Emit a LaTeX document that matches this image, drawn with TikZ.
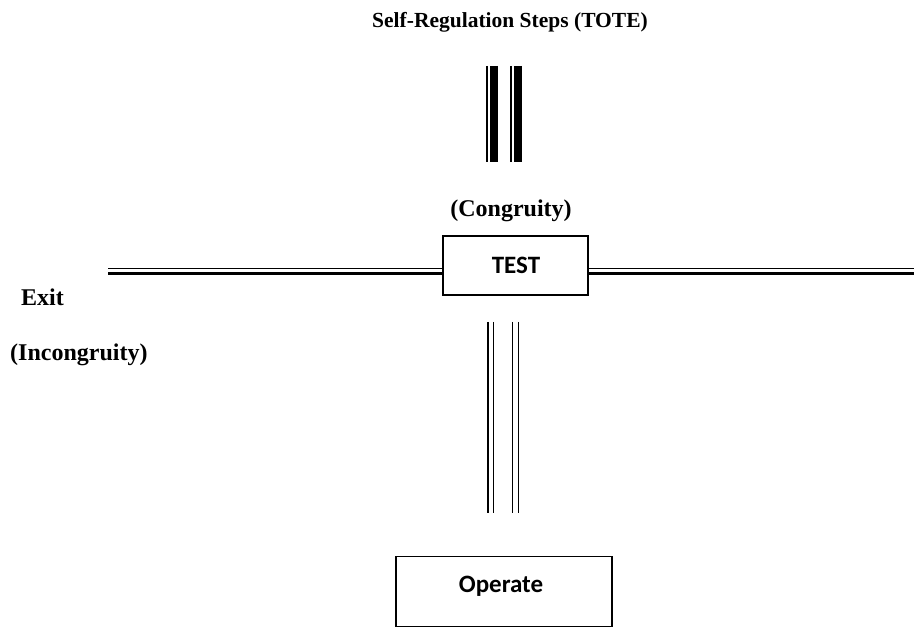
\documentclass[tikz,border=0pt]{standalone}
\usepackage{fontspec}
\setmainfont{Liberation Serif}
\newfontfamily\boxfont{Carlito}
\begin{document}
\begin{tikzpicture}[x=1pt,y=-1pt,
  lbl/.style={font=\fontsize{24}{28}\selectfont\bfseries, inner sep=0pt},
  ttl/.style={font=\fontsize{21.5}{26}\selectfont\bfseries, inner sep=0pt},
  boxtxt/.style={font=\boxfont\fontsize{25}{30}\selectfont\bfseries, inner sep=0pt},
  tbox/.style={draw, line width=1.6pt, inner sep=0pt},
  thinrail/.style={line width=1.5pt},
  thickrail/.style={line width=3pt},
  bar/.style={line width=7.5pt},
  barthin/.style={line width=1.6pt},
  lowrail/.style={line width=1.8pt}]
\useasboundingbox (0,0) rectangle (914,628);
% title
\node[ttl, anchor=base] (title) at (510,28) {Self-Regulation Steps (TOTE)};
% top bars
\coordinate (b1t) at (487,66);   \coordinate (b1b) at (487,162);
\coordinate (b2t) at (494,66);   \coordinate (b2b) at (494,162);
\coordinate (b3t) at (510.8,66); \coordinate (b3b) at (510.8,162);
\coordinate (b4t) at (518,66);   \coordinate (b4b) at (518,162);
\draw[barthin] (b1t) -- (b1b);
\draw[bar] (b2t) -- (b2b);
\draw[barthin] (b3t) -- (b3b);
\draw[bar] (b4t) -- (b4b);
% congruity
\node[lbl, anchor=base] (cong) at (511,217) {(Congruity)};
% TEST box
\node[tbox, minimum width=145pt, minimum height=59pt] (test) at (515.5,265.5) {};
\node[boxtxt] (testtxt) at (516,265) {TEST};
% horizontal rails
\coordinate (lA) at (108,268.3);
\coordinate (lB) at (108,274);
\coordinate (rA) at (914,268.3);
\coordinate (rB) at (914,274);
\draw[thinrail] (lA) -- (lA -| test.west);
\draw[thickrail] (lB) -- (lB -| test.west);
\draw[thinrail] (test.east |- rA) -- (rA);
\draw[thickrail] (test.east |- rB) -- (rB);
% labels left
\node[lbl, anchor=base west] (exit) at (21,306) {Exit};
\node[lbl, anchor=base west] (incong) at (10,361) {(Incongruity)};
% lower rails
\coordinate (v1t) at (488,322);   \coordinate (v1b) at (488,513);
\coordinate (v2t) at (493.5,322); \coordinate (v2b) at (493.5,513);
\coordinate (v3t) at (512.5,322); \coordinate (v3b) at (512.5,513);
\coordinate (v4t) at (518.5,322); \coordinate (v4b) at (518.5,513);
\draw[lowrail] (v1t) -- (v1b);
\draw[lowrail] (v2t) -- (v2b);
\draw[lowrail] (v3t) -- (v3b);
\draw[lowrail] (v4t) -- (v4b);
% Operate box
\node[tbox, minimum width=216pt, minimum height=70pt] (op) at (504,591.5) {};
\node[boxtxt] (optxt) at (501,586) {Operate};
\end{tikzpicture}
\end{document}
